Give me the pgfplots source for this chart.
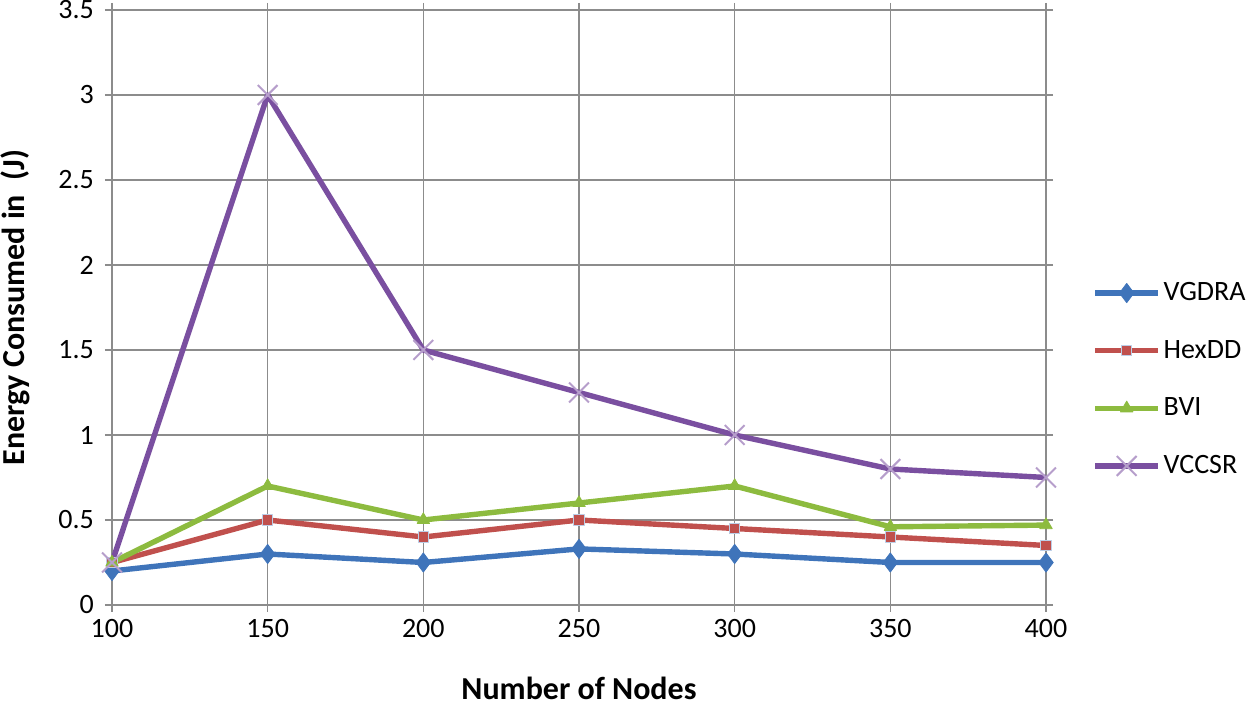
\documentclass[border=0pt]{standalone}
\usepackage{fontspec}
\setmainfont{Carlito}
\usepackage{pgfplots}
\pgfplotsset{compat=1.18}
\definecolor{cblue}{HTML}{3F74BA}
\definecolor{cred}{HTML}{C0504D}
\definecolor{cgreen}{HTML}{8DBB3F}
\definecolor{cpurple}{HTML}{7A4FA0}
\definecolor{gridgray}{HTML}{8C8C8C}
\begin{document}
\begin{tikzpicture}
\begin{axis}[
  scale only axis,
  width=467pt, height=297.5pt,
  xmin=100, xmax=400, ymin=0, ymax=3.5,
  xtick={100,150,...,400},
  ytick={0,0.5,...,3.5},
  yticklabel style={/pgf/number format/fixed, xshift=-2pt},
  /pgf/number format/assume math mode=true,
  tick label style={font=\fontsize{14}{16}\selectfont},
  tick align=outside,
  major tick length=3.5pt,
  tick style={gridgray, line width=0.8pt},
  axis line style={gridgray, line width=0.8pt},
  grid=major,
  grid style={gridgray, line width=0.7pt},
  xlabel={\bfseries Number of Nodes},
  ylabel={\bfseries Energy Consumed in~~(J)},
  xlabel style={font=\fontsize{16}{18}\selectfont, at={(axis description cs:0.5,-0.158)}, anchor=base},
  ylabel style={font=\fontsize{16}{18}\selectfont, at={(axis description cs:-0.103,0.5)}, anchor=center},
  legend style={at={(axis description cs:1.05,0.379)}, anchor=west, draw=none, fill=none,
    inner sep=0pt, outer sep=0pt,
    font=\fontsize{14}{16}\selectfont, row sep=14.3pt,
    nodes={inner xsep=1.5pt}},
  legend image code/.code={\draw[mark repeat=2, mark phase=2]
    plot coordinates {(0cm,0cm) (0.55cm,0cm) (1.1cm,0cm)};},
  legend cell align=left,
  every axis plot/.append style={line width=2.7pt, line join=round},
]
\addplot[cblue, mark=diamond*, mark size=4.8pt, mark options={solid, fill=cblue, line width=0.4pt}]
  coordinates {(100,0.2)(150,0.3)(200,0.25)(250,0.33)(300,0.3)(350,0.25)(400,0.25)};
\addlegendentry{VGDRA}
\addplot[cred, mark=square*, mark size=2.6pt, mark options={solid, fill=cred, draw=cblue!35, line width=0.5pt}]
  coordinates {(100,0.25)(150,0.5)(200,0.4)(250,0.5)(300,0.45)(350,0.4)(400,0.35)};
\addlegendentry{HexDD}
\addplot[cgreen, mark=triangle*, mark size=3.6pt, mark options={solid, fill=cgreen, line width=0.4pt}]
  coordinates {(100,0.25)(150,0.7)(200,0.5)(250,0.6)(300,0.7)(350,0.46)(400,0.47)};
\addlegendentry{BVI}
\addplot[cpurple, mark=x, mark size=7pt, mark options={solid, draw=cpurple!55, line width=1pt}]
  coordinates {(100,0.25)(150,3.0)(200,1.5)(250,1.25)(300,1.0)(350,0.8)(400,0.75)};
\addlegendentry{VCCSR}
\coordinate (sw) at (rel axis cs:0,0);
\coordinate (ne) at (rel axis cs:1,1);
\end{axis}
\pgfresetboundingbox
\path ([shift={(-56pt,-50pt)}]sw) rectangle ([shift={(104.5pt,5pt)}]ne);
\end{tikzpicture}
\end{document}
